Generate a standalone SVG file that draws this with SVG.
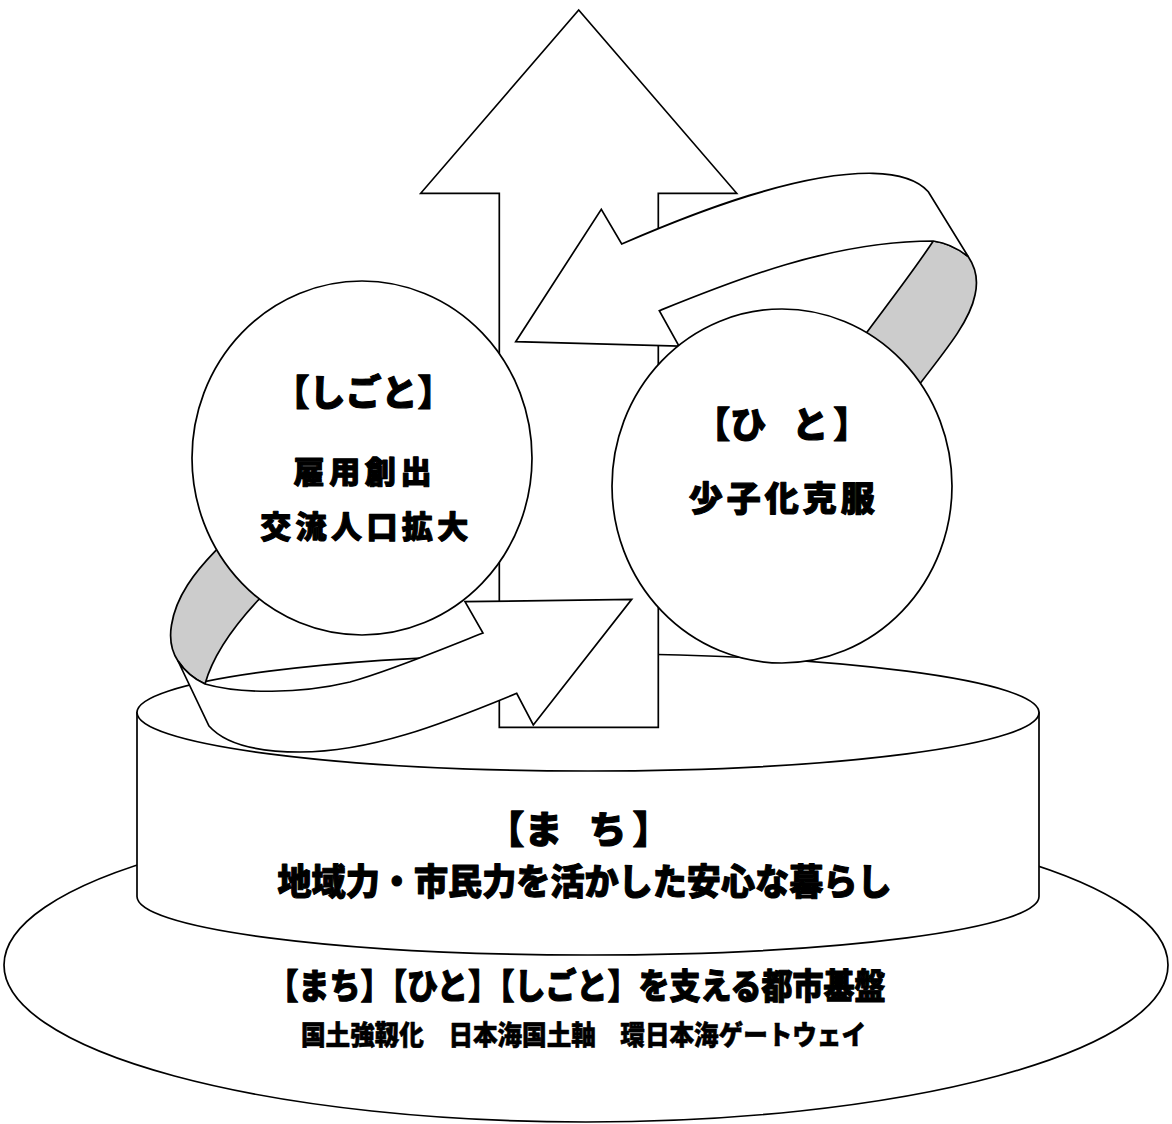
<svg xmlns="http://www.w3.org/2000/svg" width="1172" height="1124" viewBox="0 0 1172 1124">
<style>
.ln{stroke:#000;stroke-width:1.7;fill:#fff;stroke-linejoin:miter}
.gr{stroke:#000;stroke-width:1.7;fill:#cccccc}
.t{font-family:"Noto Sans CJK JP","Noto Sans CJK SC",sans-serif;font-weight:900;fill:#000;stroke:#000;stroke-width:1.1;stroke-linejoin:round;text-anchor:middle}
.s{stroke-width:0.6}
</style>
<rect width="1172" height="1124" fill="#fff"/>
<g id="base">
<ellipse class="ln" cx="586" cy="965" rx="582" ry="157"/>
<text class="t" x="576.5" y="998.8" font-size="35" textLength="618" lengthAdjust="spacingAndGlyphs">【まち】【ひと】【しごと】を支える都市基盤</text>
<text class="t s" x="583.5" y="1045.3" font-size="27" textLength="565" lengthAdjust="spacingAndGlyphs">国土強靱化　日本海国土軸　環日本海ゲートウェイ</text>
</g>
<g id="machi">
<path class="ln" d="M137,712.5 L137,896.5 A451,58.5 0 0 0 1039,896.5 L1039,712.5 Z"/>
<ellipse class="ln" cx="588" cy="712.5" rx="451" ry="58.5"/>
<text class="t" x="578.5" y="843" font-size="38">【ま<tspan dx="-6">　</tspan><tspan dx="-6">ち</tspan><tspan dx="6">】</tspan></text>
<text class="t" x="584.5" y="894.7" font-size="36" textLength="614" lengthAdjust="spacingAndGlyphs">地域力・市民力を活かした安心な暮らし</text>
</g>
<g id="connectors">
<path id="arrow-up" class="ln" d="M578.7,10 L736.7,193.3 L658.3,193.3 L658.3,727.3 L499.3,727.3 L499.3,193.3 L420.7,193.3 Z"/>
<path id="ribbon-right-back" class="gr" d="M855,346 L866.7,332.5 C880,314 910,276 933.3,241 C948,243 960,250 968.3,256.7 C976,268 978,282 975,295 C970,320 950,345 915,390 Z"/>
<path id="ribbon-right-front" class="ln" d="M621.7,244 C700,210 800,172 873,173.3 C900,174 918,180 928.3,191.7 L968.3,256.7 C960,250 948,243 933.3,241 C830,241 730,282 659.3,310.7 L679,346 L515.7,341.7 L601.3,209.3 Z"/>
<path id="ribbon-left-back" class="gr" d="M228,540 L215.7,550.7 C195,572 176,596 171.5,625 C169,640 172,652 178,661 C184,670 194,679 205,684 C213,655 235,625 258.3,600 L270,590 Z"/>
<path id="ribbon-left-front" class="ln" d="M178,661 C184,670 194,679 205,684 C240,694 300,694 350,682 C390,671 440,650 483,633 L465,601.7 L631.7,599.3 L533.3,725 L516.7,693.3 C440,725 370,752 300,752 C255,752 225,744 209,726 Z"/>
</g>
<g id="shigoto">
<ellipse class="ln" cx="362" cy="458" rx="170" ry="177"/>
<text class="t" x="363.5" y="406" font-size="36">【しごと】</text>
<text class="t" x="362.5" y="482.6" font-size="31" textLength="138" lengthAdjust="spacing">雇用創出</text>
<text class="t" x="364.2" y="538.3" font-size="31" textLength="208" lengthAdjust="spacing">交流人口拡大</text>
</g>
<g id="hito">
<ellipse class="ln" cx="782" cy="486" rx="170" ry="177"/>
<text class="t" x="781.7" y="438" font-size="36">【ひ<tspan dx="-5">　</tspan><tspan dx="-5">と</tspan><tspan dx="5">】</tspan></text>
<text class="t" x="781.7" y="510.5" font-size="34" textLength="186" lengthAdjust="spacing">少子化克服</text>
</g>
</svg>
